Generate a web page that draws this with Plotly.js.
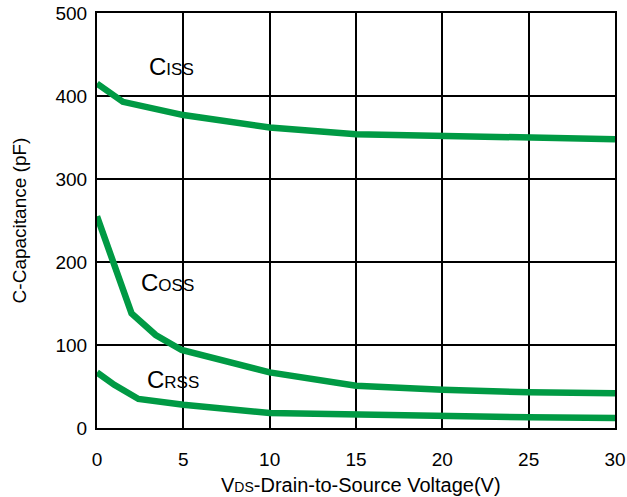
<!DOCTYPE html>
<html>
<head>
<meta charset="utf-8">
<script src="https://cdn.plot.ly/plotly-3.0.1.min.js"></script>
<style>html,body{margin:0;padding:0;background:#fff;}#chart{width:627px;height:497px;}</style>
</head>
<body>
<div id="chart"></div>
<script>
// Data
const cissV = [0, 1.5, 5, 7.5, 10, 15, 20, 25, 30];
const cissC = [415, 393, 377, 369, 362, 354, 352, 349, 348];

const cossV = [0, 2.0, 3.4, 4.9, 10, 15, 20, 25, 30];
const cossC = [255, 138, 112, 94, 67, 51, 46, 43, 42];

const crssV = [0, 1.0, 2.4, 5, 10, 15, 20, 25, 30];
const crssC = [67, 52, 35, 28, 18, 16, 14.5, 13, 12];

const xTicks = [0, 5, 10, 15, 20, 25, 30];
const yTicks = [0, 100, 200, 300, 400, 500];

const labels = [
  {name: 'C<span style="font-size:17px">ISS</span>', x: 4.3, y: 435},
  {name: 'C<span style="font-size:17px">OSS</span>', x: 4.1, y: 175},
  {name: 'C<span style="font-size:17px">RSS</span>', x: 4.4, y: 58}
];

const xTitle = 'V<span style="font-size:14px">DS</span>-Drain-to-Source Voltage(V)';
const yTitle = 'C-Capacitance (pF)';

const green = 'rgb(0,154,68)';
const mk = (x, y) => ({x: x, y: y, type: 'scatter', mode: 'lines', line: {color: green, width: 6.5}, hoverinfo: 'skip', showlegend: false});

const data = [mk(cissV, cissC), mk(cossV, cossC), mk(crssV, crssC)];

const annotations = labels.map(l => ({x: l.x, y: l.y, xref: 'x', yref: 'y', text: l.name, showarrow: false, font: {size: 24, color: '#000'}}));
annotations.push({x: 0.51, y: -0.137, xref: 'paper', yref: 'paper', xanchor: 'center', yanchor: 'middle', text: xTitle, showarrow: false, font: {size: 20, color: '#000'}});

const layout = {
  width: 627, height: 497,
  margin: {l: 97, r: 12, t: 13, b: 69},
  paper_bgcolor: '#fff', plot_bgcolor: '#fff',
  font: {family: '"Liberation Sans", Arial, sans-serif', color: '#000', size: 19},
  xaxis: {
    range: [0, 30], tickvals: xTicks, ticktext: xTicks.map(String),
    showgrid: true, gridcolor: '#000', gridwidth: 2,
    showline: true, linecolor: '#000', linewidth: 2, mirror: true,
    zeroline: false, ticks: 'outside', ticklen: 13, tickcolor: 'rgba(0,0,0,0)',
    tickfont: {size: 19}
  },
  yaxis: {
    range: [0, 500], tickvals: yTicks, ticktext: yTicks.map(String),
    showgrid: true, gridcolor: '#000', gridwidth: 2,
    showline: true, linecolor: '#000', linewidth: 2, mirror: true,
    zeroline: false, ticks: 'outside', ticklen: 4, tickcolor: 'rgba(0,0,0,0)', tickfont: {size: 19},
    title: {text: yTitle, font: {size: 19}, standoff: 24}
  },
  annotations: annotations
};

Plotly.newPlot('chart', data, layout, {staticPlot: true, displayModeBar: false});
</script>
</body>
</html>
